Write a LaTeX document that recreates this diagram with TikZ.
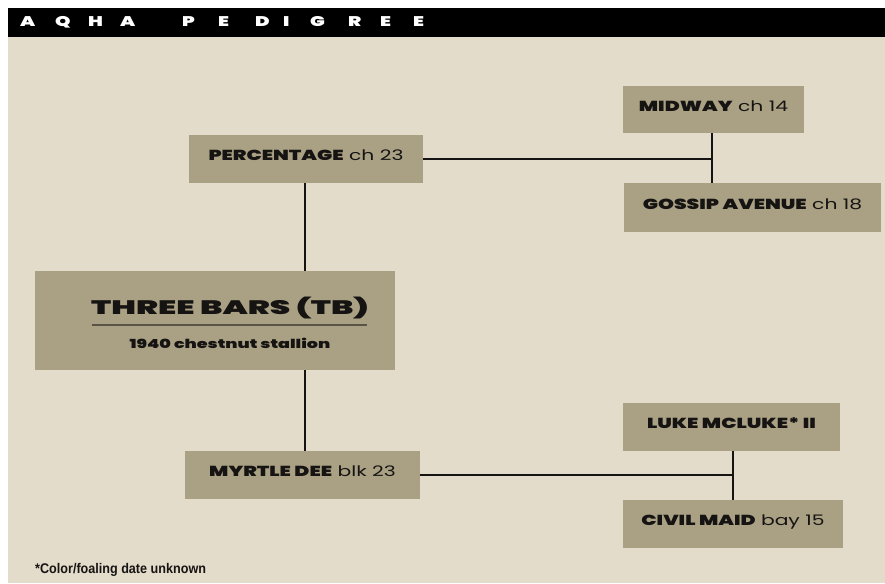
\documentclass[tikz,border=0pt]{standalone}
\usepackage{fontspec}
\setmainfont{Poppins}[FakeStretch=1.4,BoldFont={Poppins Black}]
\newfontfamily\widefont{Poppins Black}[FakeStretch=1.68]
\newfontfamily\notefont{Liberation Sans}[FakeStretch=0.9]
\definecolor{bg}{HTML}{E4DCCA}
\definecolor{boxc}{HTML}{AAA184}
\definecolor{ink}{HTML}{161412}
\definecolor{uline}{HTML}{5A5446}
\newcommand{\lt}[2]{\makebox[#1pt][l]{#2}}
\begin{document}
\begin{tikzpicture}[x=1pt,y=-1pt,
  horse/.style={fill=boxc,draw=none,inner sep=0pt,text=ink,
    font=\fontsize{14.5}{16}\selectfont,text height=10.5pt,text depth=7pt},
  link/.style={draw=ink,line width=1.3pt}]
\useasboundingbox (0,0) rectangle (885,583);
\fill[white] (0,0) rectangle (885,583);
\fill[bg] (8,37) rectangle (885,583);
\fill[black] (8,8) rectangle (885,37);
\node[anchor=west,text=white,inner sep=0pt,font=\bfseries\fontsize{14}{16}\selectfont] (title) at (20,22.5)
  {\lt{35}{A}\lt{33}{Q}\lt{32}{H}\lt{62}{A}\lt{36}{P}\lt{37}{E}\lt{28}{D}\lt{27}{I}\lt{38}{G}\lt{32}{R}\lt{33}{E}E};
% boxes
\node[horse,minimum width=234pt,minimum height=48pt] (perc) at (306,159) {\textbf{PERCENTAGE} ch 23};
\node[horse,minimum width=181pt,minimum height=47pt] (midway) at (713.5,109.5) {\textbf{MIDWAY} ch 14};
\node[horse,minimum width=257pt,minimum height=49pt] (gossip) at (752.5,207.5) {\textbf{GOSSIP AVENUE} ch 18};
\node[fill=boxc,inner sep=0pt,minimum width=360pt,minimum height=99pt] (tb) at (215,320.5) {};
\node[text=ink,inner sep=0pt,font=\widefont\fontsize{19.5}{22}\selectfont] (tbname) at (230,308) {THREE BARS (TB)};
\draw[uline,line width=1.8pt] (92,325) -- (367,325);
\node[text=ink,inner sep=0pt,font=\bfseries\fontsize{12.5}{14}\selectfont] (tbsub) at (230,343) {1940 chestnut stallion};
\node[horse,minimum width=235pt,minimum height=48pt] (myrtle) at (302.5,475) {\textbf{MYRTLE DEE} blk 23};
\node[horse,minimum width=217pt,minimum height=48pt] (luke) at (731.5,427) {\textbf{LUKE MCLUKE* II}};
\node[horse,minimum width=220pt,minimum height=48pt] (civil) at (733,524) {\textbf{CIVIL MAID} bay 15};
% connectors
\coordinate (j1) at (712,159);
\coordinate (j2) at (733,475);
\draw[link] (perc.east) -- (j1);
\draw[link] (j1 |- midway.south) -- (j1 |- gossip.north);
\draw[link] (myrtle.east) -- (j2);
\draw[link] (j2 |- luke.south) -- (j2 |- civil.north);
\draw[link] (305,183) -- (305,271);
\draw[link] (305,370) -- (305,451);
\node[anchor=west,inner sep=0pt,text=ink,font=\notefont\bfseries\fontsize{14}{16}\selectfont] (note) at (35,570) {*Color/foaling date unknown};
\end{tikzpicture}
\end{document}
